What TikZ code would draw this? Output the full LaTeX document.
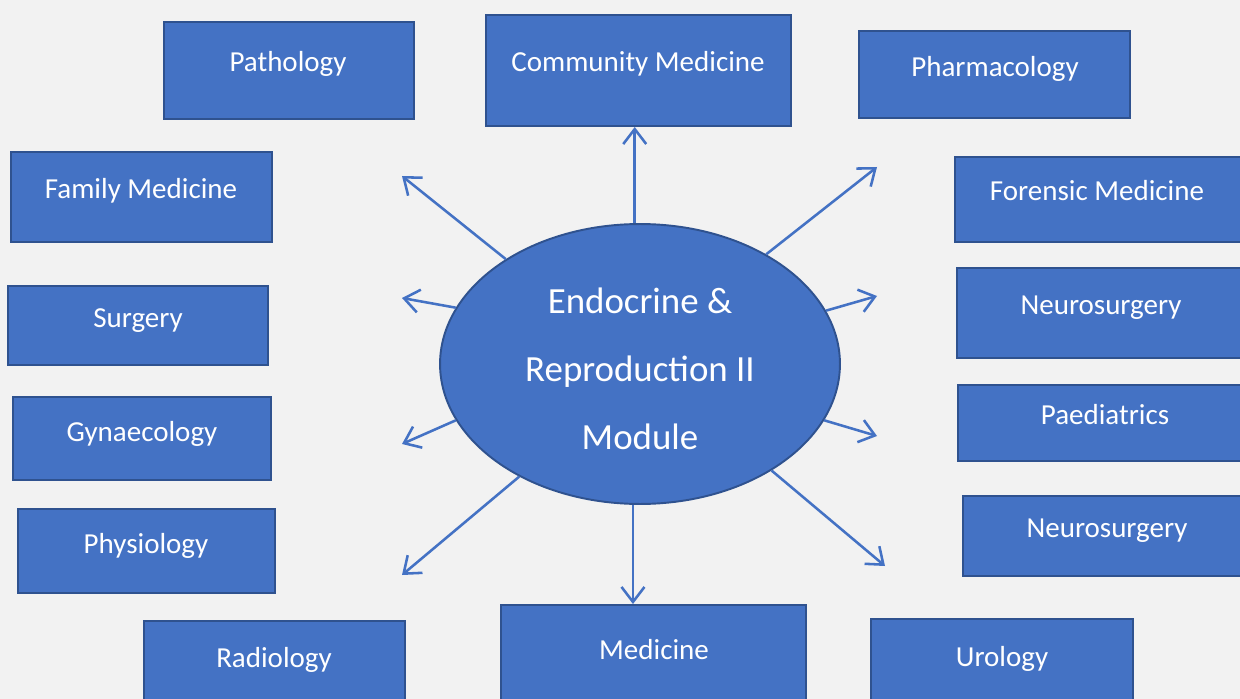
\documentclass[tikz,border=0pt]{standalone}
\usepackage{fontspec}
\setmainfont{Carlito}
\usetikzlibrary{positioning, arrows.meta, shapes.geometric, fit}

\definecolor{boxblue}{HTML}{4472C4}
\definecolor{boxedge}{HTML}{2F528F}
\definecolor{paper}{HTML}{F2F2F2}

\begin{document}
\begin{tikzpicture}[
    x=0.02cm, y=-0.02cm,
    subject/.style={rectangle, draw=boxedge, fill=boxblue, line width=1.1pt, inner sep=0pt},
    subjtext/.style={anchor=base, text=white, font=\fontsize{16.5}{20}\selectfont},
    module/.style={ellipse, draw=boxedge, fill=boxblue, line width=1.1pt, inner sep=0pt,
        minimum width=8cm, minimum height=5.6cm},
    modtext/.style={text=white, align=center, font=\fontsize{21}{38.6}\selectfont},
    link/.style={-{Straight Barb[length=3mm, width=4.6mm]}, draw=boxblue, line width=1.45pt}
]

    % Page
    \useasboundingbox (0,0) rectangle (1240,699);
    \fill[paper] (0,0) rectangle (1240,699);
    \clip (0,0) rectangle (1240,699);

    % === Left column ===
    \node[subject, fit={(164,22) (414,119)}] (patho) {};
    \node[subjtext] (pathot) at (288,72) {Pathology};
    \node[subject, fit={(11,152) (272,242)}] (fammed) {};
    \node[subjtext] (fammedt) at (141,198) {Family Medicine};
    \node[subject, fit={(8,286) (268,365)}] (surg) {};
    \node[subjtext] (surgt) at (138,327) {Surgery};
    \node[subject, fit={(13,397) (271,480)}] (gyn) {};
    \node[subjtext] (gynt) at (142,441) {Gynaecology};
    \node[subject, fit={(18,509) (275,593)}] (physio) {};
    \node[subjtext] (physiot) at (146,553) {Physiology};
    \node[subject, fit={(144,621) (405,720)}] (radio) {};
    \node[subjtext] (radiot) at (274,667) {Radiology};

    % === Middle column ===
    \node[subject, fit={(486,15) (791,126)}] (commed) {};
    \node[subjtext] (commedt) at (638,72) {Community Medicine};
    \node[subject, fit={(501,605) (806,720)}] (med) {};
    \node[subjtext] (medt) at (654,659) {Medicine};

    % === Right column ===
    \node[subject, fit={(859,31) (1130,118)}] (pharma) {};
    \node[subjtext] (pharmat) at (995,77) {Pharmacology};
    \node[subject, fit={(955,157) (1260,242)}] (foren) {};
    \node[subjtext] (forent) at (1097,201) {Forensic Medicine};
    \node[subject, fit={(957,268) (1260,358)}] (neuroa) {};
    \node[subjtext] (neuroat) at (1101,314) {Neurosurgery};
    \node[subject, fit={(958,385) (1260,461)}] (paed) {};
    \node[subjtext] (paedt) at (1105,424) {Paediatrics};
    \node[subject, fit={(963,496) (1260,576)}] (neurob) {};
    \node[subjtext] (neurobt) at (1107,537) {Neurosurgery};
    \node[subject, fit={(871,619) (1133,720)}] (uro) {};
    \node[subjtext] (urot) at (1002,666) {Urology};

    % === Module ===
    \node[module] (mod) at (640,364) {};
    \node[modtext] (modt) at (640,369) {Endocrine \&\\Reproduction II\\Module};

    % Free arrow ends
    \coordinate (ul) at (402,176);
    \coordinate (l) at (402,298);
    \coordinate (ll) at (402,444);
    \coordinate (bl) at (402,575);
    \coordinate (ur) at (877,167);
    \coordinate (r) at (877,296);
    \coordinate (lr) at (877,436);
    \coordinate (br) at (885,566);

    % Arrows
    \draw[link] ([xshift=-3]mod.north) -- ([xshift=-3]mod.north |- commed.south);
    \draw[link] ([xshift=-4]mod.south) -- ([xshift=-4]mod.south |- med.north);
    \draw[link] (mod.142.8) -- (ul);
    \draw[link] (mod.163.7) -- (l);
    \draw[link] (mod.197.4) -- (ll);
    \draw[link] (mod.223.8) -- (bl);
    \draw[link] (mod.41.8) -- (ur);
    \draw[link] (mod.16) -- (r);
    \draw[link] (mod.-17.6) -- (lr);
    \draw[link] (mod.-39.1) -- (br);

\end{tikzpicture}
\end{document}
